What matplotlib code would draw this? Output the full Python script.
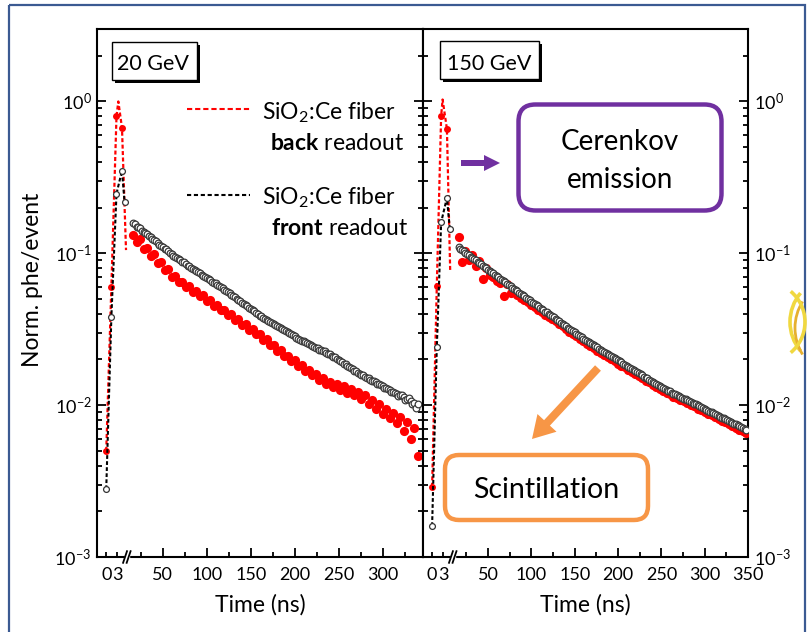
import numpy as np
import matplotlib.pyplot as plt
from matplotlib.patches import FancyBboxPatch, Rectangle, FancyArrow, Arc
from matplotlib.ticker import FixedLocator, FixedFormatter, NullFormatter, LogLocator

plt.rcParams['font.family'] = ['Lato', 'DejaVu Sans']
plt.rcParams['mathtext.fontset'] = 'custom'
plt.rcParams['mathtext.rm'] = 'Lato'
plt.rcParams['mathtext.it'] = 'Lato:italic'
plt.rcParams['mathtext.bf'] = 'Lato:bold'
plt.rcParams['axes.linewidth'] = 1.5

# prompt (first few ns) part, 20 GeV
t_prompt_back_20 = [0.0, 1.4, 2.8, 3.3, 4.3, 5.4]
y_prompt_back_20 = [5.0e-3, 0.060, 0.80, 1.0, 0.67, 0.105]
t_prompt_front_20 = [0.0, 1.4, 2.8, 4.3, 5.0]
y_prompt_front_20 = [2.8e-3, 0.038, 0.247, 0.35, 0.217]

# prompt part, 150 GeV
t_prompt_back_150 = [0.0, 1.3, 2.5, 2.9, 4.1, 5.0]
y_prompt_back_150 = [2.9e-3, 0.061, 0.80, 1.03, 0.66, 0.077]
t_prompt_front_150 = [0.0, 1.3, 2.5, 4.1, 4.9]
y_prompt_front_150 = [1.6e-3, 0.024, 0.16, 0.232, 0.145]

# slow tail: back readout in 4 ns bins, front readout in 2 ns bins
t_back_20 = np.arange(16, 341, 4)
t_front_20 = np.arange(16, 341, 2)
t_back_150 = np.arange(16, 349, 4)
t_front_150 = np.arange(16, 349, 2)

back_20 = [0.131, 0.118, 0.124, 0.106, 0.109, 0.0960, 0.0985, 0.0865, 0.0870, 0.0775, 0.0790, 0.0700,
           0.0705, 0.0645, 0.0650, 0.0600, 0.0608, 0.0556, 0.0565, 0.0520, 0.0528, 0.0485, 0.0492, 0.0450,
           0.0460, 0.0422, 0.0426,
           0.0390, 0.0396, 0.0362, 0.0368, 0.0338, 0.0342, 0.0314, 0.0317, 0.0292, 0.0295,
           0.0270, 0.0272, 0.0248, 0.0250, 0.0228, 0.0231, 0.0210, 0.0212, 0.0194,
           0.0198, 0.0180, 0.0184, 0.0168, 0.0171, 0.0157, 0.0160, 0.0147, 0.0150, 0.0137,
           0.0142, 0.0132, 0.0137, 0.0126, 0.0133, 0.0121, 0.0127, 0.0116, 0.0122,
           0.0110, 0.0116, 0.0102, 0.0108, 0.0094, 0.0101, 0.0088, 0.0095, 0.0082,
           0.0089, 0.0076, 0.0083, 0.0068, 0.0078, 0.0060, 0.0071, 0.0046]
front_20 = [0.158, 0.156, 0.150, 0.149, 0.146, 0.141, 0.139, 0.137, 0.134, 0.130,
            0.128, 0.125, 0.122, 0.121, 0.117, 0.114, 0.112, 0.110, 0.107, 0.106,
            0.103, 0.100, 0.0990, 0.0962, 0.0945, 0.0935, 0.0912, 0.0898, 0.0880, 0.0870,
            0.0850, 0.0830, 0.0824, 0.0805, 0.0790, 0.0782, 0.0765, 0.0750, 0.0740, 0.0722,
            0.0712, 0.0703, 0.0686, 0.0678, 0.0665, 0.0648, 0.0640, 0.0633, 0.0618, 0.0606,
            0.0596, 0.0588, 0.0575, 0.0562, 0.0553, 0.0545, 0.0530, 0.0524, 0.0512, 0.0500,
            0.0492, 0.0484, 0.0473, 0.0462, 0.0455, 0.0448, 0.0437, 0.0428, 0.0421, 0.0414,
            0.0405, 0.0396, 0.0389, 0.0385, 0.0377, 0.0370, 0.0366, 0.0359, 0.0353, 0.0350,
            0.0343, 0.0336, 0.0333, 0.0329, 0.0321, 0.0318, 0.0312, 0.0306, 0.0303, 0.0297,
            0.0293, 0.0289, 0.0284, 0.0278, 0.0274, 0.0270, 0.0266, 0.0263, 0.0259, 0.0255,
            0.0252, 0.0249, 0.0245, 0.0242, 0.0239, 0.0237, 0.0232, 0.0230, 0.0227, 0.0226,
            0.0222, 0.0218, 0.0216, 0.0211, 0.0209, 0.0206, 0.0202, 0.0199, 0.0195, 0.0193,
            0.0188, 0.0186, 0.0182, 0.0177, 0.0175, 0.0173, 0.0169, 0.0167, 0.0164, 0.0160,
            0.0158, 0.0157, 0.0154, 0.0151, 0.0150, 0.0146, 0.0145, 0.0144, 0.0141, 0.0137,
            0.0137, 0.0136, 0.0133, 0.0129, 0.0129, 0.0128, 0.0126, 0.0122, 0.0122, 0.0121,
            0.0119, 0.0115, 0.0116, 0.0116, 0.0113, 0.0108, 0.0110, 0.0111, 0.0107, 0.0101,
            0.0104, 0.0096, 0.0101]
back_150 = [0.128, 0.088, 0.104, 0.090, 0.097, 0.083, 0.089, 0.068, 0.080, 0.072, 0.070, 0.066,
            0.064, 0.052, 0.063, 0.055, 0.056, 0.053, 0.051, 0.049, 0.048, 0.0455, 0.0445, 0.0425,
            0.0410, 0.0395, 0.0382,
            0.0368, 0.0356, 0.0340, 0.0330, 0.0316, 0.0305, 0.0293, 0.0284, 0.0272, 0.0263,
            0.0254, 0.0245, 0.0237, 0.0229, 0.0222, 0.0215, 0.0207, 0.0201, 0.0195,
            0.0188, 0.0182, 0.0177, 0.0171, 0.0165, 0.0160, 0.0155, 0.0150, 0.0145, 0.0141,
            0.0136, 0.0132, 0.0127, 0.0124, 0.0120, 0.0118, 0.0114, 0.0111, 0.0108,
            0.0106, 0.0103, 0.0100, 0.0098, 0.0095, 0.0093, 0.0090, 0.0088, 0.0086,
            0.0084, 0.0081, 0.0079, 0.0077, 0.0075, 0.0073, 0.0071, 0.0069, 0.0068, 0.0066]
front_150 = [0.110, 0.107, 0.105, 0.104, 0.101, 0.0985, 0.0973, 0.0950, 0.0930, 0.0916,
             0.0897, 0.0874, 0.0860, 0.0845, 0.0824, 0.0813, 0.0797, 0.0778, 0.0765, 0.0752,
             0.0738, 0.0720, 0.0706, 0.0695, 0.0682, 0.0668, 0.0654, 0.0645, 0.0630, 0.0620,
             0.0606, 0.0595, 0.0585, 0.0571, 0.0562, 0.0550, 0.0539, 0.0531, 0.0520, 0.0508,
             0.0500, 0.0489, 0.0480, 0.0473, 0.0462, 0.0455, 0.0447, 0.0437, 0.0430, 0.0423,
             0.0413, 0.0408, 0.0400, 0.0391, 0.0384, 0.0378, 0.0370, 0.0362, 0.0357, 0.0349,
             0.0343, 0.0337, 0.0331, 0.0323, 0.0318, 0.0313, 0.0306, 0.0301, 0.0296, 0.0289,
             0.0285, 0.0279, 0.0274, 0.0270, 0.0265, 0.0260, 0.0256, 0.0253, 0.0248, 0.0244,
             0.0240, 0.0235, 0.0232, 0.0229, 0.0225, 0.0220, 0.0217, 0.0214, 0.0210, 0.0207,
             0.0204, 0.0200, 0.0197, 0.0194, 0.0191, 0.0188, 0.0185, 0.0182, 0.0179, 0.0176,
             0.0173, 0.0170, 0.0167, 0.0165, 0.0162, 0.0160, 0.0157, 0.0154, 0.0152, 0.0150,
             0.0147, 0.0145, 0.0142, 0.0140, 0.0137, 0.0135, 0.0133, 0.0131, 0.0129, 0.0128,
             0.0126, 0.0124, 0.0123, 0.0121, 0.0119, 0.0118, 0.0116, 0.0115, 0.0113, 0.0112,
             0.0110, 0.0109, 0.0108, 0.0106, 0.0105, 0.0104, 0.0102, 0.0101, 0.00995, 0.00982,
             0.00968, 0.00956, 0.00944, 0.00932, 0.00920, 0.00907, 0.00895, 0.00884, 0.00873, 0.00862,
             0.00851, 0.00840, 0.00828, 0.00818, 0.00807, 0.00796, 0.00785, 0.00776, 0.00766, 0.00756,
             0.00746, 0.00736, 0.00726, 0.00717, 0.00708, 0.00699, 0.00690]

panel_titles = ['20 GeV', '150 GeV']
x_max = [346, 350]
major_x = [[50, 100, 150, 200, 250, 300], [50, 100, 150, 200, 250, 300, 350]]
minor_x = [0, 3, 25, 75, 125, 175, 225, 275, 325]
minor_x_labels = ['0', '3', '', '', '', '', '', '', '']

# broken time axis: first ns are stretched, the rest is linear
t_knots = [-100, 6, 14, 1000]
u_knots = [-431.5, 10.5, 14, 1000]


def to_axis(t):
    return np.interp(t, t_knots, u_knots)


def from_axis(u):
    return np.interp(u, u_knots, t_knots)


RED = '#ff0000'
fig = plt.figure(figsize=(8.07, 6.32), dpi=100)
ax1 = fig.add_axes([97 / 807, 1 - 557 / 632, 326 / 807, 528 / 632])
ax2 = fig.add_axes([423 / 807, 1 - 557 / 632, 325 / 807, 528 / 632])

panels = [
    (ax1, t_prompt_back_20, y_prompt_back_20, t_prompt_front_20, y_prompt_front_20,
     t_back_20, back_20, t_front_20, front_20),
    (ax2, t_prompt_back_150, y_prompt_back_150, t_prompt_front_150, y_prompt_front_150,
     t_back_150, back_150, t_front_150, front_150),
]

for i, (ax, tb, yb, tf, yf, tbt, ybt, tft, yft) in enumerate(panels):
    ax.set_xscale('function', functions=(to_axis, from_axis))
    ax.set_yscale('log')
    ax.set_xlim(-2.52, x_max[i])
    ax.set_ylim(1e-3, 3)

    ax.plot(tb, yb, color=RED, ls=(0, (1.8, 1.1)), lw=1.6, marker='o', ms=5,
            mec='none', markevery=[0, 1, 2, 4], zorder=3)
    ax.plot(tf, yf, color='black', ls=(0, (1.8, 1.1)), lw=1.5, marker='o', ms=4.2,
            mfc='white', mec='#333333', mew=0.9, zorder=4)
    ax.plot(tbt, ybt, ls='none', marker='o', ms=6.6, color=RED, mec='none', zorder=3)
    ax.plot(tft, yft, ls='none', marker='o', ms=4.8, mfc='white', mec='#3a3a3a',
            mew=0.9, zorder=4)

    ax.xaxis.set_major_locator(FixedLocator(major_x[i]))
    ax.xaxis.set_minor_locator(FixedLocator(minor_x))
    ax.xaxis.set_minor_formatter(FixedFormatter(minor_x_labels))
    ax.yaxis.set_major_locator(LogLocator(base=10, numticks=10))
    ax.yaxis.set_minor_locator(LogLocator(base=10, subs=np.arange(2, 10), numticks=20))
    ax.yaxis.set_minor_formatter(NullFormatter())

    ax.tick_params(which='both', direction='in', width=1.3, labelsize=13, top=False,
                   left=True, right=True)
    ax.tick_params(which='major', length=6.5)
    ax.tick_params(which='minor', length=3.5)
    ax.tick_params(axis='x', which='both', pad=7)
    ax.tick_params(axis='y', which='both', pad=4)
    ax.set_xlabel('Time (ns)', fontsize=16.5, labelpad=8)

    # axis break marks
    ax.add_patch(Rectangle((0.086, -0.006), 0.011, 0.012, transform=ax.transAxes,
                           color='white', zorder=6, clip_on=False))
    for xc in (0.086, 0.097):
        ax.plot([xc - 0.006, xc + 0.006], [-0.011, 0.011], transform=ax.transAxes,
                color='black', lw=1.3, clip_on=False, zorder=7)

ax1.tick_params(axis='y', labelleft=True, labelright=False)
ax2.tick_params(axis='y', labelleft=False, labelright=True)
ax1.set_ylabel('Norm. phe/event', fontsize=16.5)
ax1.yaxis.set_label_coords(-0.166, 0.525)

# page-level annotations, in pixel units
ov = fig.add_axes([0, 0, 1, 1], zorder=5)
ov.set_xlim(0, 807)
ov.set_ylim(632, 0)
ov.axis('off')
ov.patch.set_alpha(0)

ov.add_patch(Rectangle((8.5, 5), 796, 650, fill=False, ec='#3b5a92', lw=1.6))

for (x0, y0, x1, y1), label, xc in [((112, 42, 197, 80), panel_titles[0], 153),
                                   ((440, 41, 539, 79), panel_titles[1], 489)]:
    ov.add_patch(Rectangle((x0 + 2.5, y0 + 2.5), x1 - x0, y1 - y0, color='black', lw=0))
    ov.add_patch(Rectangle((x0, y0), x1 - x0, y1 - y0, fc='white', ec='black', lw=1.0))
    ov.text(xc, 70.5, label, fontsize=15.5, ha='center', va='baseline')

# legend
ov.plot([187, 250], [109, 109], color=RED, lw=1.5, ls=(0, (2.5, 1.4)))
ov.text(262, 119, r'SiO$_2$:Ce fiber', fontsize=16.5, ha='left', va='baseline')
ov.text(404, 150, r'$\mathbf{back}$ readout', fontsize=16.5, ha='right', va='baseline')
ov.plot([187, 250], [195, 195], color='black', lw=1.5, ls=(0, (2.0, 1.3)))
ov.text(262, 204, r'SiO$_2$:Ce fiber', fontsize=16.5, ha='left', va='baseline')
ov.text(408, 235, r'$\mathbf{front}$ readout', fontsize=16.5, ha='right', va='baseline')

# callouts
PURPLE = '#7030a0'
ORANGE = '#f79646'
ov.add_patch(FancyBboxPatch((518.5, 104.5), 203, 106, boxstyle='round,pad=0,rounding_size=17',
                            fc='white', ec=PURPLE, lw=3.2))
ov.text(620, 150, 'Cerenkov', fontsize=20, ha='center', va='baseline')
ov.text(620, 188.5, 'emission', fontsize=20, ha='center', va='baseline')
ov.add_patch(FancyArrow(461, 163, 39, 0, width=6, head_width=16, head_length=16,
                        length_includes_head=True, color=PURPLE, lw=0))

ov.add_patch(FancyBboxPatch((445, 455), 203, 65, boxstyle='round,pad=0,rounding_size=14',
                            fc='white', ec=ORANGE, lw=3.2))
ov.text(546.5, 498.5, 'Scintillation', fontsize=20.5, ha='center', va='baseline')
ov.add_patch(FancyArrow(598, 368, -66, 71, width=8, head_width=26, head_length=22,
                        length_includes_head=True, color=ORANGE, lw=0))

# decorative arcs at the page edge
ov.add_patch(Arc((835, 322), 90, 90, theta1=140, theta2=220, color='#f0d840', lw=2.6))
ov.add_patch(Arc((845, 328), 100, 100, theta1=148, theta2=212, color='#e6b030', lw=2.0))
ov.add_patch(Arc((765, 322), 80, 80, theta1=-50, theta2=50, color='#f0d840', lw=2.6))

fig.savefig('out.png', dpi=100)
